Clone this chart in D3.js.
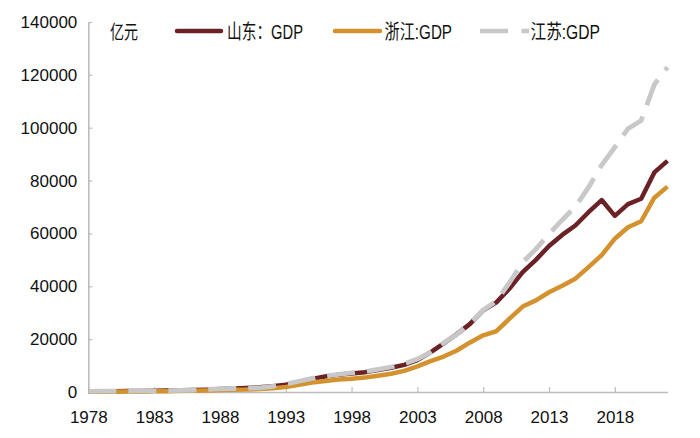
<!DOCTYPE html>
<html><head><meta charset="utf-8">
<script src="https://cdn.jsdelivr.net/npm/d3@7/dist/d3.min.js"></script>
<style>
html,body{margin:0;padding:0;background:#fff;}
svg{display:block;}
text{font-family:"Liberation Sans Narrow","Liberation Sans","Noto Sans CJK SC",sans-serif;fill:#111;}
</style></head>
<body>
<svg id="chart" width="700" height="438"></svg>
<script>
const years = d3.range(1978, 2023);
const shandong = [225.5,251.6,292.1,346.6,395.4,459.8,581.6,680.5,742.1,892.3,1117.7,1293.9,1511.2,1810.5,2196.5,2770.4,3844.5,4953.4,5883.8,6537.1,7021.4,7493.8,8337.5,9195.0,10275.5,12078.2,15021.8,18366.9,21900.2,25776.9,30933.3,33896.7,39169.9,45361.9,50013.2,55230.3,59426.6,63002.3,68024.5,72634.2,66648.9,71067.5,73129.0,83095.9,87435.1];
const zhejiang = [123.7,157.8,179.9,204.9,234.0,257.1,323.3,429.2,502.5,606.9,770.3,849.4,904.7,1089.3,1375.7,1925.9,2689.3,3557.6,4188.5,4686.1,5052.6,5443.9,6141.0,6898.3,8003.7,9705.0,11648.7,13417.7,15718.5,18753.7,21462.7,22990.4,27722.3,32318.9,34665.3,37756.6,40173.0,42886.5,47251.4,51768.3,58002.8,62351.7,64613.3,73515.8,77715.4];
const jiangsu = [249.2,298.6,319.8,350.0,390.2,437.7,518.9,651.8,744.9,922.3,1208.9,1321.9,1416.5,1601.4,2136.0,2998.2,4057.4,5155.3,6004.2,6680.3,7199.9,7697.8,8553.7,9456.8,10606.9,12442.9,15003.6,18598.7,21742.1,26018.5,30982.0,34457.3,41425.5,49110.3,54058.2,59753.4,65088.3,70116.4,77388.3,85869.8,92595.4,99631.5,102719.0,116364.0,122876.0];
const xTicks = [1978,1983,1988,1993,1998,2003,2008,2013,2018];
const yTicks = [0,20000,40000,60000,80000,100000,120000,140000];
const seriesNames = ["山东：GDP","浙江:GDP","江苏:GDP"];
const unitLabel = "亿元";

const svg = d3.select("#chart");
const x = d3.scaleLinear().domain([1978, 2022]).range([88.3, 667.5]);
const y = d3.scaleLinear().domain([0, 140000]).range([392, 22]);
const axisColor = "#BDBDBD";

// Y axis
const gy = svg.append("g").attr("transform", "translate(88.3,0)")
  .call(d3.axisLeft(y).tickValues(yTicks).tickFormat(d3.format("d")).tickSizeInner(-4).tickSizeOuter(0).tickPadding(11));
gy.select(".domain").attr("stroke", axisColor).attr("stroke-width", 1.6);
gy.selectAll(".tick line").attr("stroke", axisColor).attr("stroke-width", 1.2);
gy.selectAll(".tick text").attr("font-size", 17).attr("font-family", "Liberation Sans Narrow").attr("fill", "#111");

// X axis
const gx = svg.append("g").attr("transform", "translate(0,392)")
  .call(d3.axisBottom(x).tickValues(xTicks).tickFormat(d3.format("d")).tickSizeInner(-5).tickSizeOuter(0).tickPadding(19));
gx.select(".domain").attr("stroke", axisColor).attr("stroke-width", 1.6);
gx.selectAll(".tick line").attr("stroke", axisColor).attr("stroke-width", 1.2);
gx.selectAll(".tick text").attr("font-size", 17).attr("font-family", "Liberation Sans Narrow").attr("fill", "#111");

const colors = ["#6B2226", "#D4922F", "#C8C8C8"];
const dash = [null, null, "28,12"];
const widths = [4.5, 4.5, 4.8];
const data = [shandong, zhejiang, jiangsu];

const line = d3.line().x((d, i) => x(years[i])).y(d => y(d));
data.forEach((s, k) => {
  svg.append("path").datum(s).attr("d", line)
    .attr("fill", "none").attr("stroke", colors[k]).attr("stroke-width", widths[k])
    .attr("stroke-linejoin", "round")
    .attr("stroke-dasharray", dash[k]);
});

// Legend
svg.append("text").attr("x", 110).attr("y", 38.5).attr("font-size", 19)
  .attr("font-family", "Noto Sans CJK SC")
  .attr("textLength", 28).attr("lengthAdjust", "spacingAndGlyphs").text(unitLabel);

const leg = [
  {x1: 177, x2: 221, tx: 227, tl: 76, cap: "round"},
  {x1: 335, x2: 380, tx: 384.5, tl: 67.5, cap: "round"},
  {x1: 480, x2: 529, tx: 530.5, tl: 69.5, cap: "butt"}
];
leg.forEach((L, k) => {
  svg.append("line").attr("x1", L.x1).attr("x2", L.x2).attr("y1", 31).attr("y2", 31)
    .attr("stroke", colors[k]).attr("stroke-width", 4.5).attr("stroke-linecap", L.cap)
    .attr("stroke-dasharray", k === 2 ? "28,13.5" : null);
  svg.append("text").attr("x", L.tx).attr("y", 39).attr("font-size", 20)
    .attr("textLength", L.tl).attr("lengthAdjust", "spacingAndGlyphs").text(seriesNames[k]);
});
</script>
</body></html>
